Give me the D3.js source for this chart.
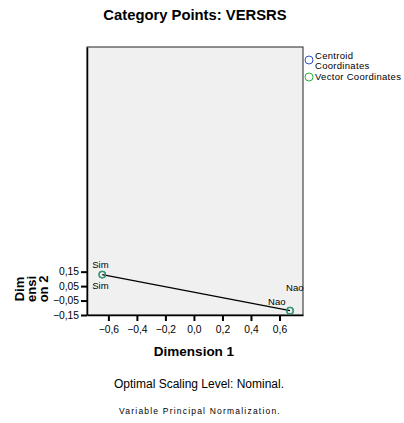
<!DOCTYPE html>
<html><head><meta charset="utf-8">
<script src="https://cdn.jsdelivr.net/npm/d3@7"></script>
<style>body{margin:0;background:#fff}svg{display:block;font-family:"Liberation Sans",Arial,sans-serif}</style>
</head><body>
<svg id="c" width="404" height="423"></svg>
<script>
const categories = ["Sim", "Nao"];
const centroidX = [-0.643, 0.674];
const centroidY = [0.13, -0.12];
const vectorX = [-0.643, 0.674];
const vectorY = [0.13, -0.12];
const xTicks = [-0.6, -0.4, -0.2, 0.0, 0.2, 0.4, 0.6];
const yTicks = [0.15, 0.05, -0.05, -0.15];
const legendLabels = [["Centroid", "Coordinates"], ["Vector Coordinates"]];
const legendColors = ["#3050c0", "#30b040"];

const svg = d3.select("#c");
const L = 87, R = 303, T = 47, B = 315;
const x = d3.scaleLinear().domain([-0.75, 0.765]).range([L, R]);
const y = d3.scaleLinear().domain([-0.15, 1.705]).range([B, T]);
const fmt = v => d3.format(".1f")(v).replace(".", ",");
const fmt2 = v => d3.format(".2f")(v).replace(".", ",");

svg.append("text").attr("x", 195).attr("y", 20).attr("text-anchor", "middle")
  .attr("font-size", 14.8).attr("font-weight", "bold").text("Category Points: VERSRS");

svg.append("rect").attr("x", L).attr("y", T).attr("width", R - L).attr("height", B - T)
  .attr("fill", "#f0f0f0").attr("stroke", "#222").attr("stroke-width", 1);

// axes
const xa = svg.append("g").attr("transform", `translate(0,${B})`)
  .call(d3.axisBottom(x).tickValues(xTicks).tickFormat(fmt).tickSize(6).tickSizeOuter(0));
xa.select(".domain").attr("stroke", "#000").attr("stroke-width", 1.5);
xa.selectAll(".tick line").attr("stroke-width", 2);
xa.selectAll("text").attr("font-size", 10.3).attr("font-family", "Liberation Sans, Arial").attr("dy", "0.85em");

const ya = svg.append("g").attr("transform", `translate(${L},0)`)
  .call(d3.axisLeft(y).tickValues(yTicks).tickFormat(fmt2).tickSize(6).tickSizeOuter(0));
ya.select(".domain").attr("stroke", "#000").attr("stroke-width", 1.5);
ya.selectAll(".tick line").attr("stroke-width", 2);
ya.selectAll("text").attr("font-size", 10.3).attr("font-family", "Liberation Sans, Arial").attr("dx", "0.1em");

// axis titles
svg.append("text").attr("x", 194).attr("y", 356).attr("text-anchor", "middle")
  .attr("font-size", 13.5).attr("font-weight", "bold").text("Dimension 1");
["Dim", "ensi", "on 2"].forEach((t, i) => {
  svg.append("text").attr("transform", `translate(${24 + i * 12},289) rotate(-90)`)
    .attr("text-anchor", "middle").attr("font-size", 13).attr("font-weight", "bold").text(t);
});

// vector line
svg.append("line").attr("x1", x(vectorX[0])).attr("y1", y(vectorY[0]))
  .attr("x2", x(vectorX[1])).attr("y2", y(vectorY[1])).attr("stroke", "#000").attr("stroke-width", 1.2);

// points
categories.forEach((c, i) => {
  svg.append("circle").attr("cx", x(centroidX[i])).attr("cy", y(centroidY[i])).attr("r", 3.2)
    .attr("fill", "none").attr("stroke", legendColors[0]).attr("stroke-width", 1.3);
  svg.append("circle").attr("cx", x(vectorX[i])).attr("cy", y(vectorY[i])).attr("r", 3.2)
    .attr("fill", "none").attr("stroke", legendColors[1]).attr("stroke-width", 1.3).attr("opacity", 0.8);
});
// labels
svg.append("text").attr("x", x(centroidX[0]) - 10).attr("y", y(centroidY[0]) - 7).attr("font-size", 9.5).text(categories[0]);
svg.append("text").attr("x", x(vectorX[0]) - 10).attr("y", y(vectorY[0]) + 14).attr("font-size", 9.5).text(categories[0]);
svg.append("text").attr("x", x(centroidX[1]) - 4).attr("y", y(centroidY[1]) - 20).attr("font-size", 9.5).text(categories[1]);
svg.append("text").attr("x", x(vectorX[1]) - 22).attr("y", y(vectorY[1]) - 6).attr("font-size", 9.5).text(categories[1]);

// legend
legendLabels.forEach((lines, i) => {
  const cy = i === 0 ? 60 : 77;
  svg.append("circle").attr("cx", 309).attr("cy", cy).attr("r", 4)
    .attr("fill", "none").attr("stroke", legendColors[i]).attr("stroke-width", 1);
  lines.forEach((t, j) => {
    svg.append("text").attr("x", 315).attr("y", (i === 0 ? 59 : 80) + j * 10)
      .attr("font-size", 9.5).attr("letter-spacing", 0.3).text(t);
  });
});

svg.append("text").attr("x", 199).attr("y", 388).attr("text-anchor", "middle").attr("font-size", 12)
  .text("Optimal Scaling Level: Nominal.");
svg.append("text").attr("x", 200).attr("y", 414).attr("text-anchor", "middle").attr("font-size", 8.5)
  .attr("letter-spacing", 1.2).text("Variable Principal Normalization.");
</script>
</body></html>
